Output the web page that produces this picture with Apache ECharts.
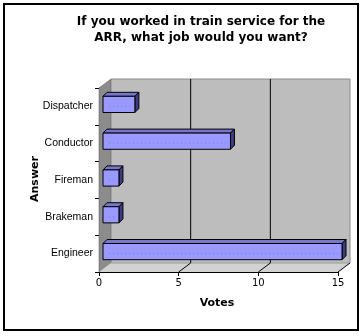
<!DOCTYPE html>
<html>
<head>
<meta charset="utf-8">
<script src="https://cdn.jsdelivr.net/npm/echarts@6/dist/echarts.min.js"></script>
<style>
html,body{margin:0;padding:0;background:#fff;}
#c{width:364px;height:336px;}
</style>
</head>
<body>
<div id="c"></div>
<script>
var categories = ['Engineer', 'Brakeman', 'Fireman', 'Conductor', 'Dispatcher'];
var votes = [15, 1, 1, 8, 2];
var xTicks = [0, 5, 10, 15];
var titleLines = ['If you worked in train service for the', 'ARR, what job would you want?'];
var xName = 'Votes';
var yName = 'Answer';

var DX = 12, DY = -9;       // depth of the chart box
var BOX = 4, BOY = -2;      // bar position within depth
var BD = 4;                 // bar depth

var chart = echarts.init(document.getElementById('c'), null, {renderer: 'canvas'});

function renderWalls(params, api) {
  var cs = params.coordSys;
  var L = cs.x, R = cs.x + cs.width, T = cs.y, B = cs.y + cs.height;
  var ch = [];
  ch.push({type: 'polygon', shape: {points: [[L + DX, T + DY], [R + DX, T + DY], [R + DX, B + DY], [L + DX, B + DY]]},
    style: {fill: '#bdbdbd', stroke: null}});
  ch.push({type: 'polyline', shape: {points: [[L + DX, T + DY], [R + DX, T + DY], [R + DX, B + DY]]},
    style: {stroke: '#8a8a8a', lineWidth: 1, fill: null}});
  ch.push({type: 'polygon', shape: {points: [[L, T], [L + DX, T + DY], [L + DX, B + DY], [L, B]]},
    style: {fill: '#8c8c8c', stroke: '#555', lineWidth: 0.5}});
  ch.push({type: 'polygon', shape: {points: [[L, B], [L + DX, B + DY], [R + DX, B + DY], [R, B]]},
    style: {fill: '#d2d2d2', stroke: null}});
  ch.push({type: 'line', shape: {x1: L + DX, y1: B + DY, x2: R + DX, y2: B + DY},
    style: {stroke: '#9a9a9a', lineWidth: 1}});
  for (var i = 0; i < xTicks.length; i++) {
    var x = api.coord([xTicks[i], 0])[0];
    if (xTicks[i] > 0 && xTicks[i] < 15) {
      ch.push({type: 'line', shape: {x1: x + DX, y1: T + DY, x2: x + DX, y2: B + DY},
        style: {stroke: '#000', lineWidth: 1}});
    }
    if (xTicks[i] > 0) {
      ch.push({type: 'line', shape: {x1: x, y1: B, x2: x + DX, y2: B + DY},
        style: {stroke: '#000', lineWidth: 1}});
    }
  }
  return {type: 'group', children: ch};
}

function renderBar(params, api) {
  var v = api.value(0), c = api.value(1);
  var p0 = api.coord([0, c]);
  var p1 = api.coord([v, c]);
  var band = api.size([0, 1])[1];
  var h = band * 0.44;
  var x0 = p0[0] + BOX, x1 = p1[0] + BOX;
  var yT = p0[1] - h / 2 + BOY, yB = yT + h;
  var ls = {stroke: '#000', lineWidth: 1};
  return {type: 'group', children: [
    {type: 'polygon', shape: {points: [[x0, yT], [x0 + BD, yT - BD], [x1 + BD, yT - BD], [x1, yT]]},
      style: Object.assign({fill: '#7676cc'}, ls)},
    {type: 'polygon', shape: {points: [[x1, yT], [x1 + BD, yT - BD], [x1 + BD, yB - BD], [x1, yB]]},
      style: Object.assign({fill: '#3c3c80'}, ls)},
    {type: 'rect', shape: {x: x0, y: yT, width: x1 - x0, height: h},
      style: Object.assign({fill: '#9999ff'}, ls)},
    {type: 'line', shape: {x1: x0 + 6, y1: yT + h * 0.62, x2: x1 - 3, y2: yT + h * 0.62},
      style: {stroke: '#7b7be0', lineWidth: 1, lineDash: [1, 3]}}
  ]};
}

var barData = votes.map(function (v, i) { return [v, i]; });

var option = {
  animation: false,
  backgroundColor: '#fff',
  grid: {left: 99, right: 26, top: 88, bottom: 64, containLabel: false},
  xAxis: {
    type: 'value', min: 0, max: 15, interval: 5,
    axisLine: {show: true, lineStyle: {color: '#000', width: 1}},
    axisTick: {show: true, length: 4, lineStyle: {color: '#000'}},
    splitLine: {show: false},
    axisLabel: {color: '#000', fontFamily: 'DejaVu Sans', fontSize: 10, margin: 6}
  },
  yAxis: {
    type: 'category', data: categories,
    axisLine: {show: true, lineStyle: {color: '#000', width: 1}},
    axisTick: {show: true, length: 4, lineStyle: {color: '#000'}},
    splitLine: {show: false},
    axisLabel: {color: '#000', fontFamily: 'Liberation Sans', fontSize: 10.5, margin: 6}
  },
  series: [
    {type: 'custom', name: 'walls', renderItem: renderWalls, data: [[0, 0]], z: 1, silent: true,
      encode: {x: 0, y: 1}, clip: false},
    {type: 'custom', name: 'Votes', renderItem: renderBar, data: barData, z: 3,
      encode: {x: 0, y: 1}, clip: false}
  ],
  graphic: [
    {type: 'rect', shape: {x: 4, y: 4, width: 354, height: 326}, style: {fill: null, stroke: '#000', lineWidth: 2}, z: 10},
    {type: 'text', x: 201, y: 22, style: {text: titleLines[0], textAlign: 'center', textVerticalAlign: 'middle',
      font: 'bold 12px "DejaVu Sans"', fill: '#000'}},
    {type: 'text', x: 201, y: 38, style: {text: titleLines[1], textAlign: 'center', textVerticalAlign: 'middle',
      font: 'bold 12px "DejaVu Sans"', fill: '#000'}},
    {type: 'text', x: 217, y: 303, style: {text: xName, textAlign: 'center', textVerticalAlign: 'middle',
      font: 'bold 11px "DejaVu Sans"', fill: '#000'}},
    {type: 'text', x: 35, y: 179, rotation: Math.PI / 2, style: {text: yName, textAlign: 'center', textVerticalAlign: 'middle',
      font: 'bold 11px "DejaVu Sans"', fill: '#000'}}
  ]
};
chart.setOption(option);
</script>
</body>
</html>
